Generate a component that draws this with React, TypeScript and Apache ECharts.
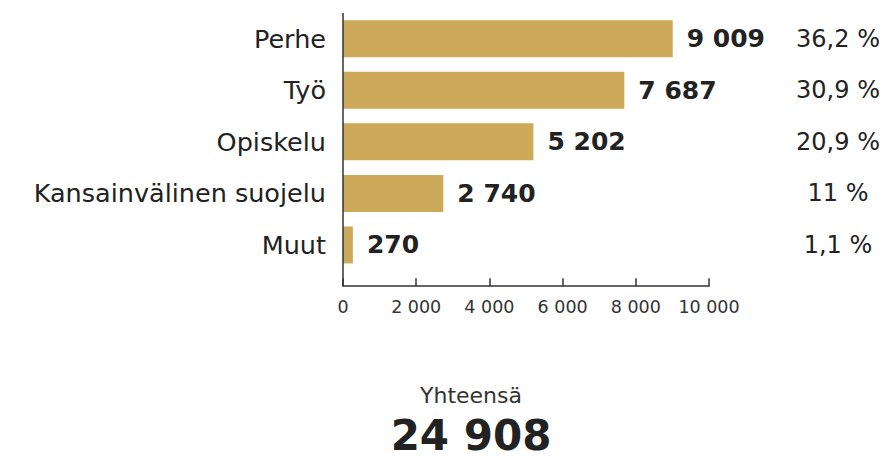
import React, { useEffect, useRef } from "react";
import * as echarts from "echarts";

const categories = ["Perhe", "Työ", "Opiskelu", "Kansainvälinen suojelu", "Muut"];
const values = [9009, 7687, 5202, 2740, 270];
const shares = ["36,2 %", "30,9 %", "20,9 %", "11 %", "1,1 %"];
const totalLabel = "Yhteensä";
const totalValue = "24 908";

const FONT = "'DejaVu Sans', 'Noto Sans', sans-serif";
const fmt = (v: number) => String(v).replace(/\B(?=(\d{3})+(?!\d))/g, " ");

export default function App() {
  const ref = useRef<HTMLDivElement>(null);
  useEffect(() => {
    if (!ref.current) return;
    const chart = echarts.init(ref.current, undefined, { renderer: "svg" });
    chart.setOption({
      animation: false,
      backgroundColor: "#ffffff",
      textStyle: { fontFamily: FONT },
      grid: { left: 343, right: 177, top: 13, height: 257.7 },
      xAxis: {
        type: "value",
        min: 0,
        max: 10000,
        interval: 2000,
        offset: 15.5,
        splitLine: { show: false },
        axisLine: { show: true, lineStyle: { color: "#333", width: 1.5 } },
        axisTick: { show: true, inside: true, length: 8, lineStyle: { color: "#333", width: 1.5 } },
        axisLabel: {
          fontSize: 17.5,
          color: "#333",
          margin: 12,
          fontFamily: FONT,
          formatter: (v: number) => fmt(v),
        },
      },
      yAxis: [
        {
          type: "category",
          data: categories,
          inverse: true,
          axisLine: { show: false },
          axisTick: { show: false },
          axisLabel: { fontSize: 25.5, color: "#222", margin: 17, fontFamily: FONT },
        },
        {
          type: "category",
          data: shares,
          inverse: true,
          position: "right",
          axisLine: { show: false },
          axisTick: { show: false },
          axisLabel: { fontSize: 24, color: "#222", margin: 129, align: "center", fontFamily: FONT },
        },
      ],
      graphic: [
        {
          type: "line",
          shape: { x1: 343, y1: 13, x2: 343, y2: 286 },
          style: { stroke: "#333", lineWidth: 1.5 },
          z: 10,
        },
        {
          type: "text",
          x: 471,
          y: 395,
          style: {
            text: totalLabel,
            fontSize: 22,
            fontFamily: FONT,
            fill: "#333",
            align: "center",
            verticalAlign: "middle",
          },
        },
        {
          type: "text",
          x: 471,
          y: 435,
          style: {
            text: totalValue,
            fontSize: 42,
            fontWeight: "bold",
            fontFamily: FONT,
            fill: "#222",
            align: "center",
            verticalAlign: "middle",
          },
        },
      ],
      series: [
        {
          type: "bar",
          data: values,
          barWidth: 37,
          itemStyle: { color: "#CDAA5A" },
          label: {
            show: true,
            position: "right",
            distance: 14,
            fontSize: 25,
            fontWeight: "bold",
            color: "#222",
            fontFamily: FONT,
            formatter: (p: any) => fmt(p.value),
          },
        },
      ],
    });
    return () => chart.dispose();
  }, []);
  return <div ref={ref} style={{ position: "fixed", left: 0, top: 0, width: 886, height: 460 }} />;
}
